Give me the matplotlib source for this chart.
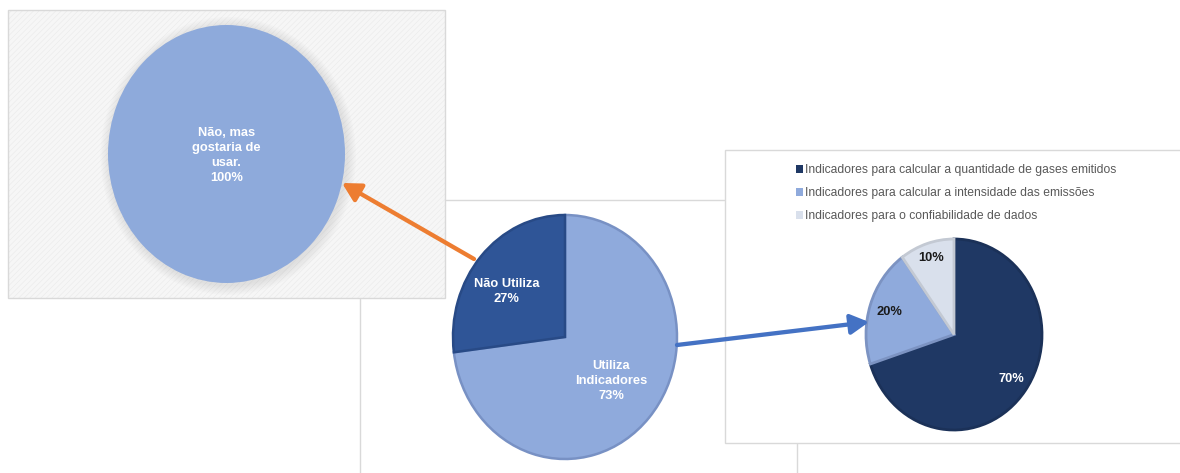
import numpy as np
import matplotlib
matplotlib.use("Agg")
import matplotlib.pyplot as plt
from matplotlib.patches import Rectangle, FancyArrowPatch, Ellipse
from matplotlib import font_manager

# ---- data ----
left_labels = ["Não, mas\ngostaria de\nusar."]
left_values = [100]

mid_labels = ["Utiliza\nIndicadores", "Não Utiliza"]
mid_values = [73, 27]

right_labels = [
    "Indicadores para calcular a quantidade de gases emitidos",
    "Indicadores para calcular a intensidade das emissões",
    "Indicadores para o confiabilidade de dados",
]
right_values = [70, 20, 10]

# ---- styling ----
W, H = 1180, 473
DPI = 100
BOLD = "Liberation Sans"
names = {f.name for f in font_manager.fontManager.ttflist}
LEG_FONT = "Liberation Sans Narrow" if "Liberation Sans Narrow" in names else "Liberation Sans"
LEG_SIZE = 10.0 if LEG_FONT == "Liberation Sans Narrow" else 8.7
LABEL_SIZE = 9.3
LINESP = 1.33

fig = plt.figure(figsize=(W / DPI, H / DPI), dpi=DPI)
fig.patch.set_facecolor("white")

# full-figure pixel canvas for the panel frames
bg = fig.add_axes([0, 0, 1, 1], zorder=0)
bg.set_xlim(0, W)
bg.set_ylim(H, 0)
bg.axis("off")

frame = "#d9d9d9"
# middle panel (underneath)
bg.add_patch(Rectangle((360, 200), 437, 290, facecolor="white", edgecolor=frame, lw=1, zorder=1))
# left panel, with fine diagonal texture
bg.add_patch(Rectangle((8, 10), 437, 288, facecolor="#f6f6f6", edgecolor="none", zorder=2))
plt.rcParams["hatch.linewidth"] = 0.4
bg.add_patch(Rectangle((8, 10), 437, 288, facecolor="none", edgecolor="#eaeaea",
                       hatch="//////", lw=0, zorder=2.1))
bg.add_patch(Rectangle((8, 10), 437, 288, facecolor="none", edgecolor=frame, lw=1, zorder=2.2))
# right panel
bg.add_patch(Rectangle((725, 150), 470, 293, facecolor="white", edgecolor=frame, lw=1, zorder=3))


def pie_axes(x0, y0, x1, y1, z):
    ax = fig.add_axes([x0 / W, 1 - y1 / H, (x1 - x0) / W, (y1 - y0) / H], zorder=z)
    ax.patch.set_alpha(0)
    return ax


def place_labels(ax, wedges, texts, spots, colors, size=LABEL_SIZE):
    # spots: (radius, angular offset in degrees) relative to each wedge's middle
    for w, t, (r, dth), c in zip(wedges, texts, spots, colors):
        mid = np.deg2rad((w.theta1 + w.theta2) / 2 + dth)
        ax.text(r * np.cos(mid), r * np.sin(mid), t, ha="center", va="center",
                color=c, fontsize=size, fontweight="bold", family=BOLD,
                linespacing=LINESP, zorder=10)


def finish(ax):
    ax.set_xlim(-1, 1)
    ax.set_ylim(-1, 1)
    ax.set_aspect("auto")
    ax.axis("off")


# ---- left pie ----
ax1 = pie_axes(108, 25, 345, 283, 5)
for k in range(7):
    ax1.add_patch(Ellipse((0.015, -0.015), 2 + 0.022 * (k + 1), 2 + 0.022 * (k + 1),
                          facecolor="#a0a0a0", alpha=0.035, lw=0, zorder=0, clip_on=False))
w1, _ = ax1.pie(left_values, colors=["#8eaadb"], startangle=90, counterclock=False,
                wedgeprops=dict(lw=0))
finish(ax1)
ax1.text(0, -0.01, f"{left_labels[0]}\n{left_values[0]}%", ha="center", va="center",
         color="white", fontsize=LABEL_SIZE, fontweight="bold", family=BOLD, linespacing=LINESP)

# ---- middle pie ----
ax2 = pie_axes(453, 215, 677, 459, 5)
w2, _ = ax2.pie(mid_values, colors=["#8faadc", "#2f5597"], startangle=90, counterclock=False)
for w, ec in zip(w2, ["#7891c4", "#284a86"]):
    w.set_edgecolor(ec)
    w.set_linewidth(1.8)
finish(ax2)
place_labels(ax2, w2, [f"{l}\n{v}%" for l, v in zip(mid_labels, mid_values)],
             [(0.55, 0), (0.64, 6)], ["white", "white"])

# ---- right pie ----
ax3 = pie_axes(866, 239, 1042, 430, 6)
w3, _ = ax3.pie(right_values, colors=["#1f3864", "#8faadc", "#d9e0ec"],
                startangle=90, counterclock=False)
for w, ec in zip(w3, ["#1b3158", "#7c93c2", "#c3c9d3"]):
    w.set_edgecolor(ec)
    w.set_linewidth(2.0)
finish(ax3)
place_labels(ax3, w3, [f"{v}%" for v in right_values], [(0.8, 0), (0.77, 0), (0.84, 0)],
             ["white", "#1a1a1a", "#1a1a1a"])

leg = fig.legend(w3, right_labels, loc="upper left",
                 bbox_to_anchor=(796 / W, 1 - 164 / H), frameon=False,
                 handlelength=0.6, handleheight=0.6, handletextpad=0.15,
                 labelspacing=0.92, borderpad=0, borderaxespad=0,
                 prop=dict(family=LEG_FONT, size=LEG_SIZE))
for t in leg.get_texts():
    t.set_color("#595959")
for h in leg.legend_handles:
    h.set_linewidth(0)

# ---- connector arrows ----
fg = fig.add_axes([0, 0, 1, 1], zorder=20)
fg.set_xlim(0, W)
fg.set_ylim(H, 0)
fg.axis("off")
fg.patch.set_alpha(0)
fg.add_patch(FancyArrowPatch((474, 259), (342, 183),
                             arrowstyle="-|>,head_length=11,head_width=6", mutation_scale=1,
                             color="#ed7d31", lw=3.1, shrinkA=0, shrinkB=0))
fg.add_patch(FancyArrowPatch((677, 345), (869, 322),
                             arrowstyle="-|>,head_length=11,head_width=6", mutation_scale=1,
                             color="#4472c4", lw=3.1, shrinkA=0, shrinkB=0))

fig.savefig("out.png", dpi=DPI)
